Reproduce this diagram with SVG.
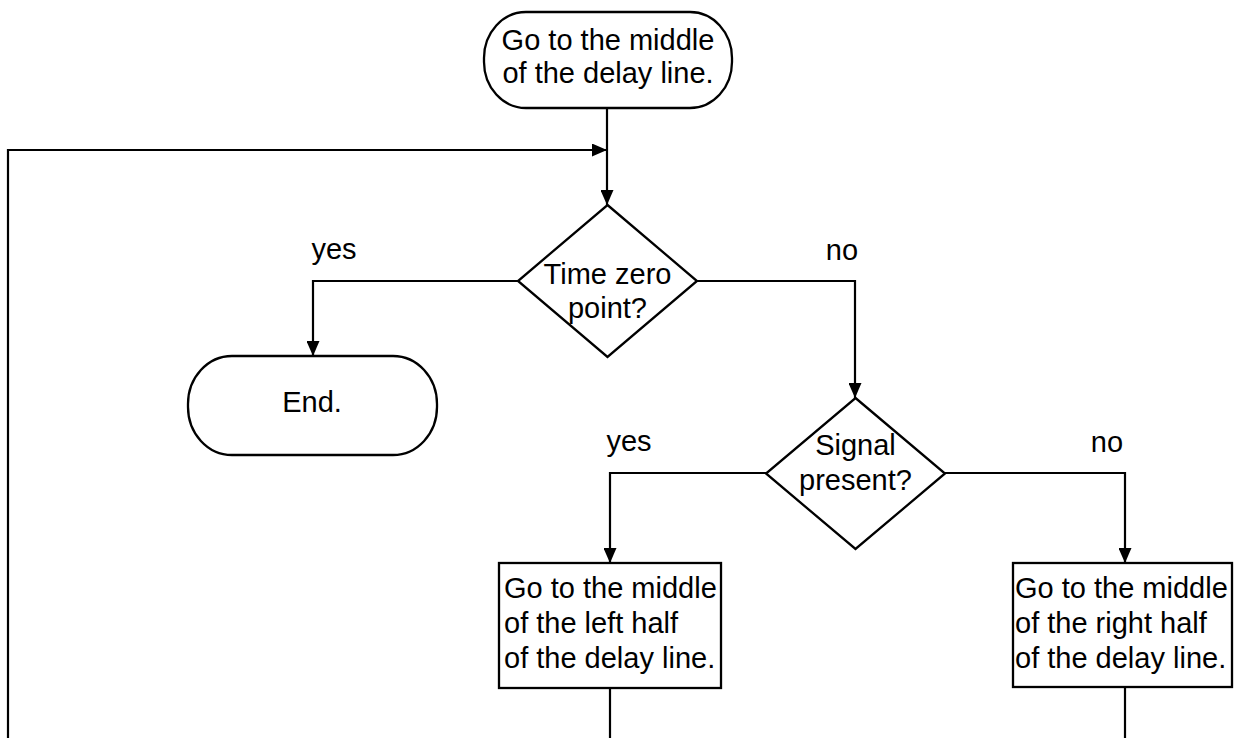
<svg xmlns="http://www.w3.org/2000/svg" width="1234" height="738" viewBox="0 0 1234 738">
<style>
.s{fill:#fff;stroke:#000;stroke-width:2.3}
.c{fill:none;stroke:#000;stroke-width:2.2}
text{font-family:"Liberation Sans",Arial,Helvetica,sans-serif;font-size:29px;fill:#000}
.m{text-anchor:middle}
</style>
<defs>
<marker id="ah" viewBox="0 0 15 13" refX="15" refY="6.5" markerWidth="15" markerHeight="13" markerUnits="userSpaceOnUse" orient="auto">
<path d="M0,0 L15,6.5 L0,13 Z" fill="#000"/>
</marker>
</defs>
<rect width="1234" height="738" fill="#fff"/>
<g id="connectors">
<path class="c" d="M607,108 L607,205" marker-end="url(#ah)"/>
<path class="c" d="M8,738 L8,150 L607,150" marker-end="url(#ah)"/>
<path class="c" d="M518,281 L313,281 L313,356" marker-end="url(#ah)"/>
<path class="c" d="M697,281 L855,281 L855,398" marker-end="url(#ah)"/>
<path class="c" d="M766,473 L610,473 L610,563" marker-end="url(#ah)"/>
<path class="c" d="M945,473 L1125,473 L1125,563" marker-end="url(#ah)"/>
<path class="c" d="M610,688 L610,738"/>
<path class="c" d="M1125,687 L1125,738"/>
<text class="m" x="334" y="259">yes</text>
<text class="m" x="842" y="260">no</text>
<text class="m" x="629" y="451">yes</text>
<text class="m" x="1107" y="452">no</text>
</g>
<g id="start">
<rect class="s" x="484" y="12" width="248" height="96" rx="42" ry="46"/>
<text class="m" x="608" y="50">Go to the middle</text>
<text class="m" x="608" y="83">of the delay line.</text>
</g>
<g id="timezero">
<polygon class="s" points="607.5,205 697,281 607.5,357 518,281"/>
<text class="m" x="607.5" y="284">Time zero</text>
<text class="m" x="607.5" y="318">point?</text>
</g>
<g id="end">
<rect class="s" x="188" y="356" width="249" height="99" rx="44" ry="48"/>
<text class="m" x="312" y="412">End.</text>
</g>
<g id="signal">
<polygon class="s" points="855.5,398 945,473.5 855.5,549 766,473.5"/>
<text class="m" x="855.5" y="455">Signal</text>
<text class="m" x="855.5" y="490">present?</text>
</g>
<g id="lefthalf">
<rect class="s" x="499" y="563" width="222" height="125"/>
<text x="504" y="598">Go to the middle</text>
<text x="504" y="633">of the left half</text>
<text x="504" y="668">of the delay line.</text>
</g>
<g id="righthalf">
<rect class="s" x="1013" y="563" width="219" height="124"/>
<text x="1015" y="598">Go to the middle</text>
<text x="1015" y="633">of the right half</text>
<text x="1015" y="668">of the delay line.</text>
</g>
</svg>
